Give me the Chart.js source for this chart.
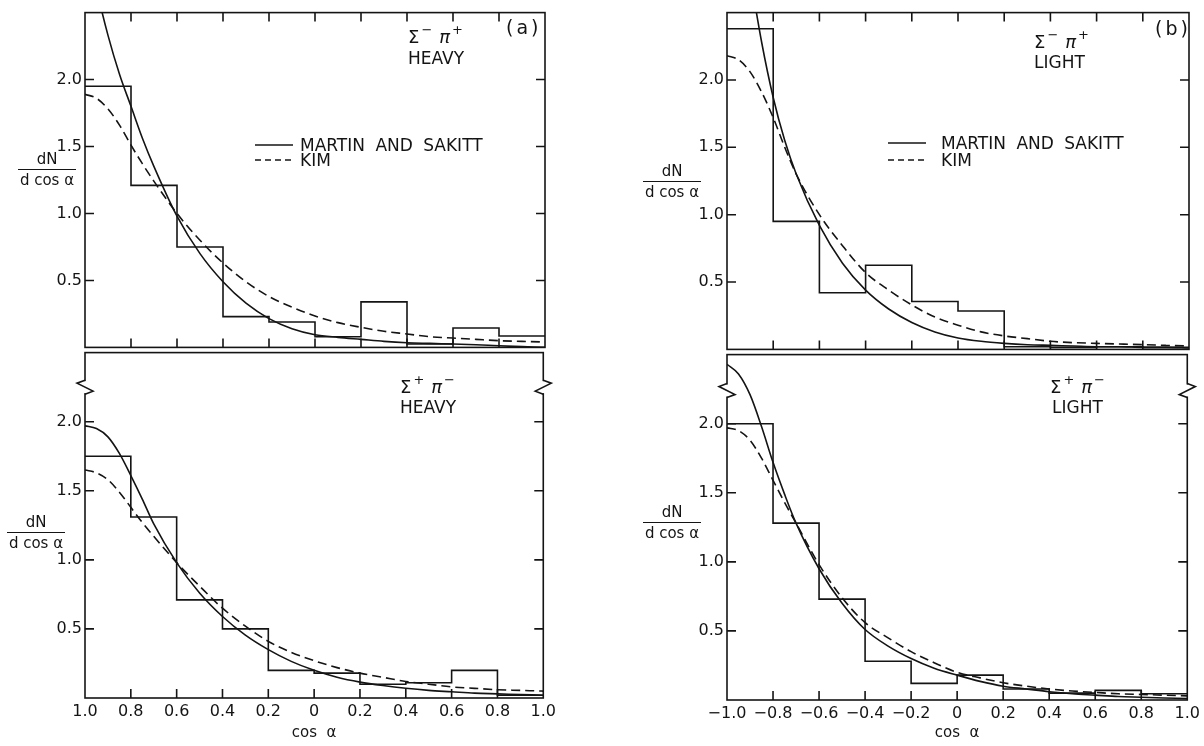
<!DOCTYPE html>
<html>
<head>
<meta charset="utf-8">
<script src="https://cdn.jsdelivr.net/npm/chart.js@4.4.1/dist/chart.umd.min.js"></script>
<style>
  body { margin: 0; background: #fff; }
  #page { position: relative; width: 1204px; height: 746px; overflow: hidden; background: #fff;
          font-family: "DejaVu Sans", sans-serif; color: #141414; }
  canvas { position: absolute; }
  .t { position: absolute; white-space: nowrap; line-height: 1; }
  .big { font-size: 17px; }
  .sym { font-size: 18px; }
  .sym sup { font-size: 0.72em; vertical-align: 0.7em; line-height: 0; margin-left: 2px; }
  .sym i { margin-left: 7px; }
  .legend { font-size: 17px; word-spacing: 5px; }
  .frac { position: absolute; font-size: 15px; line-height: 1; text-align: center; white-space: nowrap; }
  .frac .num { border-bottom: 1.5px solid #141414; padding-bottom: 2px; }
  .frac .den { padding-top: 3px; }
</style>
</head>
<body>
<div id="page">
  <canvas id="aTop" width="560" height="360" style="left:0px;top:0px"></canvas>
  <canvas id="aBot" width="560" height="406" style="left:0px;top:340px"></canvas>
  <canvas id="bTop" width="564" height="362" style="left:640px;top:0px"></canvas>
  <canvas id="bBot" width="564" height="404" style="left:640px;top:342px"></canvas>

  <!-- y axis labels -->
  <div class="frac" style="left:18px;top:152px;width:58px"><div class="num">dN</div><div class="den">d cos α</div></div>
  <div class="frac" style="left:7px;top:515px;width:58px"><div class="num">dN</div><div class="den">d cos α</div></div>
  <div class="frac" style="left:643px;top:164px;width:58px"><div class="num">dN</div><div class="den">d cos α</div></div>
  <div class="frac" style="left:643px;top:505px;width:58px"><div class="num">dN</div><div class="den">d cos α</div></div>

  <!-- panel (a) -->
  <div class="t" style="left:506px;top:18px;font-size:19px;letter-spacing:3px">(a)</div>
  <div class="t sym" style="left:408px;top:28px">Σ<sup>−</sup><i>π</i><sup>+</sup></div>
  <div class="t big" style="left:408px;top:50px">HEAVY</div>
  <svg class="t" style="left:255px;top:137px" width="40" height="30">
    <line x1="0" y1="8" x2="38" y2="8" stroke="#141414" stroke-width="1.5"/>
    <line x1="0" y1="23" x2="38" y2="23" stroke="#141414" stroke-width="1.5" stroke-dasharray="6 4"/>
  </svg>
  <div class="t legend" style="left:300px;top:137px">MARTIN AND SAKITT</div>
  <div class="t legend" style="left:300px;top:152px">KIM</div>
  <div class="t sym" style="left:400px;top:378px">Σ<sup>+</sup><i>π</i><sup>−</sup></div>
  <div class="t big" style="left:400px;top:399px">HEAVY</div>

  <!-- panel (b) -->
  <div class="t" style="left:1155px;top:19px;font-size:19px;letter-spacing:3px">(b)</div>
  <div class="t sym" style="left:1034px;top:33px">Σ<sup>−</sup><i>π</i><sup>+</sup></div>
  <div class="t big" style="left:1034px;top:54px">LIGHT</div>
  <svg class="t" style="left:888px;top:135px" width="40" height="30">
    <line x1="0" y1="8" x2="38" y2="8" stroke="#141414" stroke-width="1.5"/>
    <line x1="0" y1="25" x2="38" y2="25" stroke="#141414" stroke-width="1.5" stroke-dasharray="6 4"/>
  </svg>
  <div class="t legend" style="left:941px;top:135px">MARTIN AND SAKITT</div>
  <div class="t legend" style="left:941px;top:152px">KIM</div>
  <div class="t sym" style="left:1050px;top:378px">Σ<sup>+</sup><i>π</i><sup>−</sup></div>
  <div class="t big" style="left:1052px;top:399px">LIGHT</div>
</div>

<script>
const ink = '#141414';

// bin edges of the histograms (cos alpha)
const binEdges = [-1.0, -0.8, -0.6, -0.4, -0.2, 0.0, 0.2, 0.4, 0.6, 0.8, 1.0];
const curveX = [-1.0, -0.95, -0.9, -0.85, -0.8, -0.75, -0.7, -0.6, -0.5, -0.4, -0.3, -0.2,
                -0.1, 0.0, 0.1, 0.2, 0.3, 0.4, 0.5, 0.6, 0.7, 0.8, 0.9, 1.0];

// (a) top: Sigma- pi+ HEAVY
const histHeavySmPp = [1.95, 1.21, 0.75, 0.23, 0.19, 0.08, 0.34, 0.025, 0.145, 0.085];
const msHeavySmPp = [3.1, 2.68, 2.33, 2.04, 1.80, 1.56, 1.35, 0.98, 0.70, 0.49, 0.33, 0.215,
                     0.14, 0.095, 0.075, 0.06, 0.045, 0.035, 0.03, 0.025, 0.02, 0.012, 0.006, 0.0];
const kimHeavySmPp = [1.89, 1.86, 1.78, 1.66, 1.51, 1.37, 1.24, 1.00, 0.80, 0.63, 0.49, 0.38,
                      0.30, 0.235, 0.185, 0.15, 0.12, 0.10, 0.08, 0.07, 0.06, 0.05, 0.045, 0.04];

// (a) bottom: Sigma+ pi- HEAVY
const histHeavySpPm = [1.75, 1.31, 0.71, 0.50, 0.20, 0.18, 0.10, 0.11, 0.20, 0.02];
const msHeavySpPm = [1.97, 1.95, 1.89, 1.77, 1.61, 1.44, 1.26, 0.98, 0.76, 0.59, 0.455, 0.35,
                     0.265, 0.20, 0.15, 0.115, 0.09, 0.07, 0.055, 0.045, 0.035, 0.03, 0.025, 0.02];
const kimHeavySpPm = [1.65, 1.63, 1.58, 1.49, 1.38, 1.27, 1.17, 0.98, 0.81, 0.65, 0.52, 0.41,
                      0.33, 0.27, 0.22, 0.18, 0.15, 0.12, 0.10, 0.08, 0.07, 0.06, 0.055, 0.05];

// (b) top: Sigma- pi+ LIGHT
const histLightSmPp = [2.38, 0.95, 0.42, 0.625, 0.355, 0.285, 0.02, 0.015, 0.02, 0.015];
const msLightSmPp = [4.0, 3.3, 2.78, 2.28, 1.87, 1.55, 1.30, 0.92, 0.64, 0.44, 0.30, 0.20,
                     0.13, 0.085, 0.06, 0.045, 0.035, 0.03, 0.025, 0.02, 0.02, 0.015, 0.015, 0.01];
const kimLightSmPp = [2.18, 2.15, 2.06, 1.91, 1.72, 1.50, 1.30, 1.00, 0.77, 0.57, 0.44, 0.33,
                      0.24, 0.18, 0.13, 0.10, 0.08, 0.06, 0.05, 0.045, 0.04, 0.035, 0.03, 0.025];

// (b) bottom: Sigma+ pi- LIGHT
const histLightSpPm = [2.00, 1.28, 0.73, 0.28, 0.12, 0.18, 0.08, 0.05, 0.07, 0.045];
const msLightSpPm = [2.43, 2.36, 2.21, 1.98, 1.72, 1.49, 1.28, 0.95, 0.70, 0.51, 0.39, 0.30,
                     0.23, 0.18, 0.135, 0.10, 0.08, 0.06, 0.045, 0.035, 0.025, 0.02, 0.015, 0.01];
const kimLightSpPm = [1.97, 1.95, 1.88, 1.75, 1.59, 1.43, 1.28, 0.98, 0.74, 0.56, 0.45, 0.35,
                      0.27, 0.20, 0.16, 0.125, 0.10, 0.08, 0.065, 0.055, 0.045, 0.04, 0.035, 0.03];

// tick labels
const yTickLabels = ['', '0.5', '1.0', '1.5', '2.0', ''];
const xTickLabelsA = ['1.0', '0.8', '0.6', '0.4', '0.2', '0', '0.2', '0.4', '0.6', '0.8', '1.0'];
const xTickLabelsB = ['−1.0', '−0.8', '−0.6', '−0.4', '−0.2', '0', '0.2', '0.4', '0.6', '0.8', '1.0'];
const xTickMarks = [-0.8, -0.6, -0.4, -0.2, 0.0, 0.2, 0.4, 0.6, 0.8];
const yTickMarks = [0.5, 1.0, 1.5, 2.0];

Chart.defaults.font.family = "'DejaVu Sans', sans-serif";
Chart.defaults.color = ink;

// frame, inward tick marks and the axis break zigzag
const frameTicks = {
  id: 'frameTicks',
  afterDatasetsDraw(chart, args, opts) {
    const { ctx, chartArea: a } = chart;
    const x = chart.scales.x, y = chart.scales.y;
    ctx.save();
    ctx.strokeStyle = ink;
    ctx.lineWidth = 1.6;
    ctx.strokeRect(a.left, a.top, a.right - a.left, a.bottom - a.top);
    ctx.beginPath();
    xTickMarks.forEach(v => {
      const px = x.getPixelForValue(v);
      if (opts.top) { ctx.moveTo(px, a.top); ctx.lineTo(px, a.top + 9); }
      ctx.moveTo(px, a.bottom); ctx.lineTo(px, a.bottom - 9);
    });
    yTickMarks.forEach(v => {
      const py = y.getPixelForValue(v);
      ctx.moveTo(a.left, py); ctx.lineTo(a.left + 9, py);
      ctx.moveTo(a.right, py); ctx.lineTo(a.right - 9, py);
    });
    ctx.stroke();
    if (opts.breakAt != null) {
      const py = y.getPixelForValue(opts.breakAt);
      [[a.left, -1], [a.right, 1]].forEach(([ex, dir]) => {
        ctx.fillStyle = '#fff';
        ctx.fillRect(ex - 2, py - 6, 4, 12);
        ctx.beginPath();
        ctx.moveTo(ex, py - 7);
        ctx.lineTo(ex + dir * 8, py - 4);
        ctx.lineTo(ex - dir * 8, py + 4);
        ctx.lineTo(ex, py + 7);
        ctx.stroke();
      });
    }
    ctx.restore();
  }
};

function panelChart(canvasId, hist, ms, kim, cfg) {
  const histPts = binEdges.map((e, i) => ({ x: e, y: hist[Math.min(i, hist.length - 1)] }));
  const msPts = curveX.map((c, i) => ({ x: c, y: ms[i] }));
  const kimPts = curveX.map((c, i) => ({ x: c, y: kim[i] }));
  return new Chart(document.getElementById(canvasId), {
    type: 'line',
    data: {
      datasets: [
        { label: 'histogram', data: histPts, stepped: 'before', borderColor: ink,
          borderWidth: 1.6, pointRadius: 0, clip: 0 },
        { label: 'MARTIN AND SAKITT', data: msPts, cubicInterpolationMode: 'monotone',
          borderColor: ink, borderWidth: 1.6, pointRadius: 0, clip: 0 },
        { label: 'KIM', data: kimPts, cubicInterpolationMode: 'monotone', borderColor: ink,
          borderWidth: 1.6, borderDash: [9, 5], pointRadius: 0, clip: 0 },
      ],
    },
    options: {
      responsive: false,
      animation: false,
      layout: { padding: cfg.pad },
      plugins: {
        legend: { display: false },
        tooltip: { enabled: false },
        frameTicks: { top: cfg.topTicks, breakAt: cfg.breakAt },
      },
      scales: {
        x: {
          type: 'linear', min: -1, max: 1,
          display: cfg.xLabels != null,
          border: { display: false },
          grid: { display: false, drawTicks: false },
          ticks: {
            stepSize: 0.2, autoSkip: false, maxRotation: 0, padding: 4,
            font: { size: 16 },
            callback: (v, i) => (cfg.xLabels ? cfg.xLabels[i] : ''),
          },
          title: { display: true, text: 'cos  α', font: { size: 15 }, padding: { top: 0, bottom: 2 } },
          afterFit: s => { s.height = cfg.xHeight || 0; },
        },
        y: {
          min: 0, max: 2.5,
          border: { display: false },
          grid: { display: false, drawTicks: false },
          ticks: { stepSize: 0.5, padding: 3, font: { size: 16 }, callback: (v, i) => yTickLabels[i] },
          afterFit: s => { s.width = cfg.yWidth; },
        },
      },
    },
    plugins: [frameTicks],
  });
}

panelChart('aTop', histHeavySmPp, msHeavySmPp, kimHeavySmPp,
  { pad: { left: 0, top: 6, right: 15, bottom: 8 }, yWidth: 85, topTicks: true });
panelChart('aBot', histHeavySpPm, msHeavySpPm, kimHeavySpPm,
  { pad: { left: 0, top: 12, right: 15, bottom: 2 }, yWidth: 85, xHeight: 46,
    xLabels: xTickLabelsA, breakAt: 2.25 });
panelChart('bTop', histLightSmPp, msLightSmPp, kimLightSmPp,
  { pad: { left: 0, top: 7, right: 15, bottom: 8 }, yWidth: 87, topTicks: true });
panelChart('bBot', histLightSpPm, msLightSpPm, kimLightSpPm,
  { pad: { left: 0, top: 12, right: 15, bottom: 2 }, yWidth: 87, xHeight: 44,
    xLabels: xTickLabelsB, breakAt: 2.24 });
</script>
</body>
</html>
